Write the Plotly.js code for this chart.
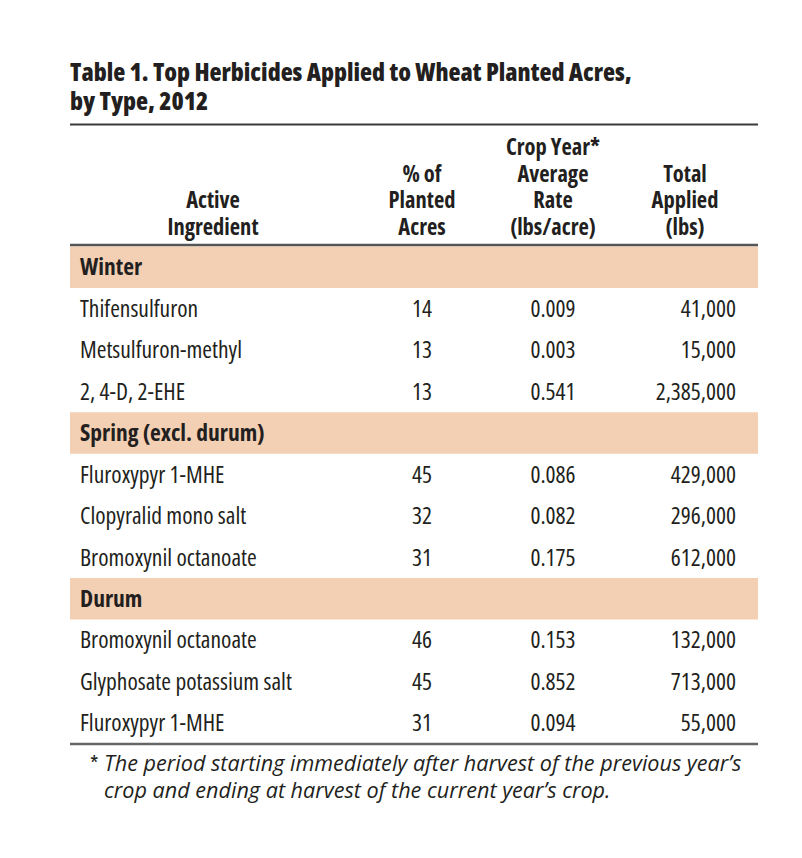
<!DOCTYPE html>
<html>
<head>
<meta charset="utf-8">
<script src="https://cdn.plot.ly/plotly-3.0.1.min.js"></script>
<style>
html,body{margin:0;padding:0;background:#fff;}
#chart{width:802px;height:858px;}
#chart text{font-stretch:75% !important;}
#chart text[style*="italic"]{font-stretch:100% !important;}
</style>
</head>
<body>
<div id="chart"></div>
<script>
// ---- data ----
const titleLines = ["Table 1. Top Herbicides Applied to Wheat Planted Acres,", "by Type, 2012"];
const headerActive = ["Active", "Ingredient"];
const headerPct = ["% of", "Planted", "Acres"];
const headerRate = ["Crop Year*", "Average", "Rate", "(lbs/acre)"];
const headerTotal = ["Total", "Applied", "(lbs)"];
const sectionNames = ["Winter", "Spring (excl. durum)", "Durum"];
const ingredients = ["Thifensulfuron", "Metsulfuron-methyl", "2, 4-D, 2-EHE",
  "Fluroxypyr 1-MHE", "Clopyralid mono salt", "Bromoxynil octanoate",
  "Bromoxynil octanoate", "Glyphosate potassium salt", "Fluroxypyr 1-MHE"];
const ingredientSection = [0, 0, 0, 1, 1, 1, 2, 2, 2];
const pctPlanted = [14, 13, 13, 45, 32, 31, 46, 45, 31];
const avgRate = [0.009, 0.003, 0.541, 0.086, 0.082, 0.175, 0.153, 0.852, 0.094];
const totalApplied = [41000, 15000, 2385000, 429000, 296000, 612000, 132000, 713000, 55000];
const footnoteMark = "*";
const footnoteLines = ["The period starting immediately after harvest of the previous year’s",
  "crop and ending at harvest of the current year’s crop."];

// ---- layout constants ----
const FONT = '"Open Sans", "Roboto Condensed", "Liberation Sans", sans-serif';
const INK = '#231f20';
const PEACH = '#f3cfb3';
const BODY = 23.5, HEAD = 22.5, TITLE = 24.8, NOTE = 21.6;
const firstRowY = 269.5, rowStep = 41.45;
const tableLeft = 70, tableRight = 758;
const colX = {name: 80, pct: 422, rate: 553, total: 736, activeHead: 213, totalHead: 685};

// build row order: section header then its ingredients
const rows = [];
sectionNames.forEach((s, si) => {
  rows.push({type: 'section', idx: si});
  ingredientSection.forEach((sec, k) => { if (sec === si) rows.push({type: 'item', idx: k}); });
});
const rowY = i => firstRowY + rowStep * i;

const itemY = [], itemIdx = [], secY = [];
rows.forEach((r, i) => {
  if (r.type === 'section') secY.push(rowY(i));
  else { itemY.push(rowY(i)); itemIdx.push(r.idx); }
});

const fmtInt = v => v.toLocaleString('en-US');
const textTrace = (xv, yv, txt, pos, size, weight, style) => ({
  type: 'scatter', mode: 'text', x: xv, y: yv, text: txt,
  textposition: pos, hoverinfo: 'skip', showlegend: false, cliponaxis: false,
  textfont: {family: FONT, size: size, color: INK, weight: weight || 'normal', style: style || 'normal'}
});
const same = (arr, v) => arr.map(() => v);

const headerCenters = n => Array.from({length: n}, (_, k) => 229 - 26.4 * (n - 1 - k));
const titleY = [75, 104];
const noteY = [766, 793];

const traces = [
  // title
  textTrace(same(titleLines, 70), titleY, titleLines, 'middle right', TITLE, 800),
  // column headers
  textTrace(same(headerActive, colX.activeHead), headerCenters(headerActive.length), headerActive, 'middle center', HEAD, 700),
  textTrace(same(headerPct, colX.pct), headerCenters(headerPct.length), headerPct, 'middle center', HEAD, 700),
  textTrace(same(headerRate, colX.rate), headerCenters(headerRate.length), headerRate, 'middle center', HEAD, 700),
  textTrace(same(headerTotal, colX.totalHead), headerCenters(headerTotal.length), headerTotal, 'middle center', HEAD, 700),
  // body
  textTrace(same(itemY, colX.name), itemY, itemIdx.map(k => ingredients[k]), 'middle right', BODY),
  textTrace(same(itemY, colX.pct), itemY, itemIdx.map(k => String(pctPlanted[k])), 'middle center', BODY),
  textTrace(same(itemY, colX.rate), itemY, itemIdx.map(k => avgRate[k].toFixed(3)), 'middle center', BODY),
  textTrace(same(itemY, colX.total), itemY, itemIdx.map(k => fmtInt(totalApplied[k])), 'middle left', BODY),
  textTrace(same(secY, colX.name), secY, sectionNames, 'middle right', BODY, 700),
  // footnote
  textTrace([90], [noteY[0]], [footnoteMark], 'middle right', NOTE),
  textTrace([104, 104], noteY, footnoteLines, 'middle right', NOTE, 'normal', 'italic')
];

const shapes = [];
secY.forEach(y => shapes.push({type: 'rect', xref: 'x', yref: 'y', x0: tableLeft, x1: tableRight,
  y0: y - 23, y1: y + 18.5, fillcolor: PEACH, line: {width: 0}, layer: 'below'}));
const hline = (y, w, c) => ({type: 'line', xref: 'x', yref: 'y', x0: tableLeft, x1: tableRight, y0: y, y1: y, line: {color: c, width: w}});
shapes.push(hline(124.5, 1.8, '#3a3a3a'));
shapes.push(hline(firstRowY - 24.5, 2.4, '#555555'));
shapes.push(hline(rowY(rows.length - 1) + 18.5, 2.4, '#666666'));

const layout = {
  width: 802, height: 858,
  margin: {l: 0, r: 0, t: 0, b: 0},
  paper_bgcolor: '#fff', plot_bgcolor: '#fff',
  xaxis: {range: [0, 802], visible: false, fixedrange: true},
  yaxis: {range: [858, 0], visible: false, fixedrange: true},
  shapes: shapes, showlegend: false
};
Plotly.newPlot('chart', traces, layout, {staticPlot: true});
</script>
</body>
</html>
